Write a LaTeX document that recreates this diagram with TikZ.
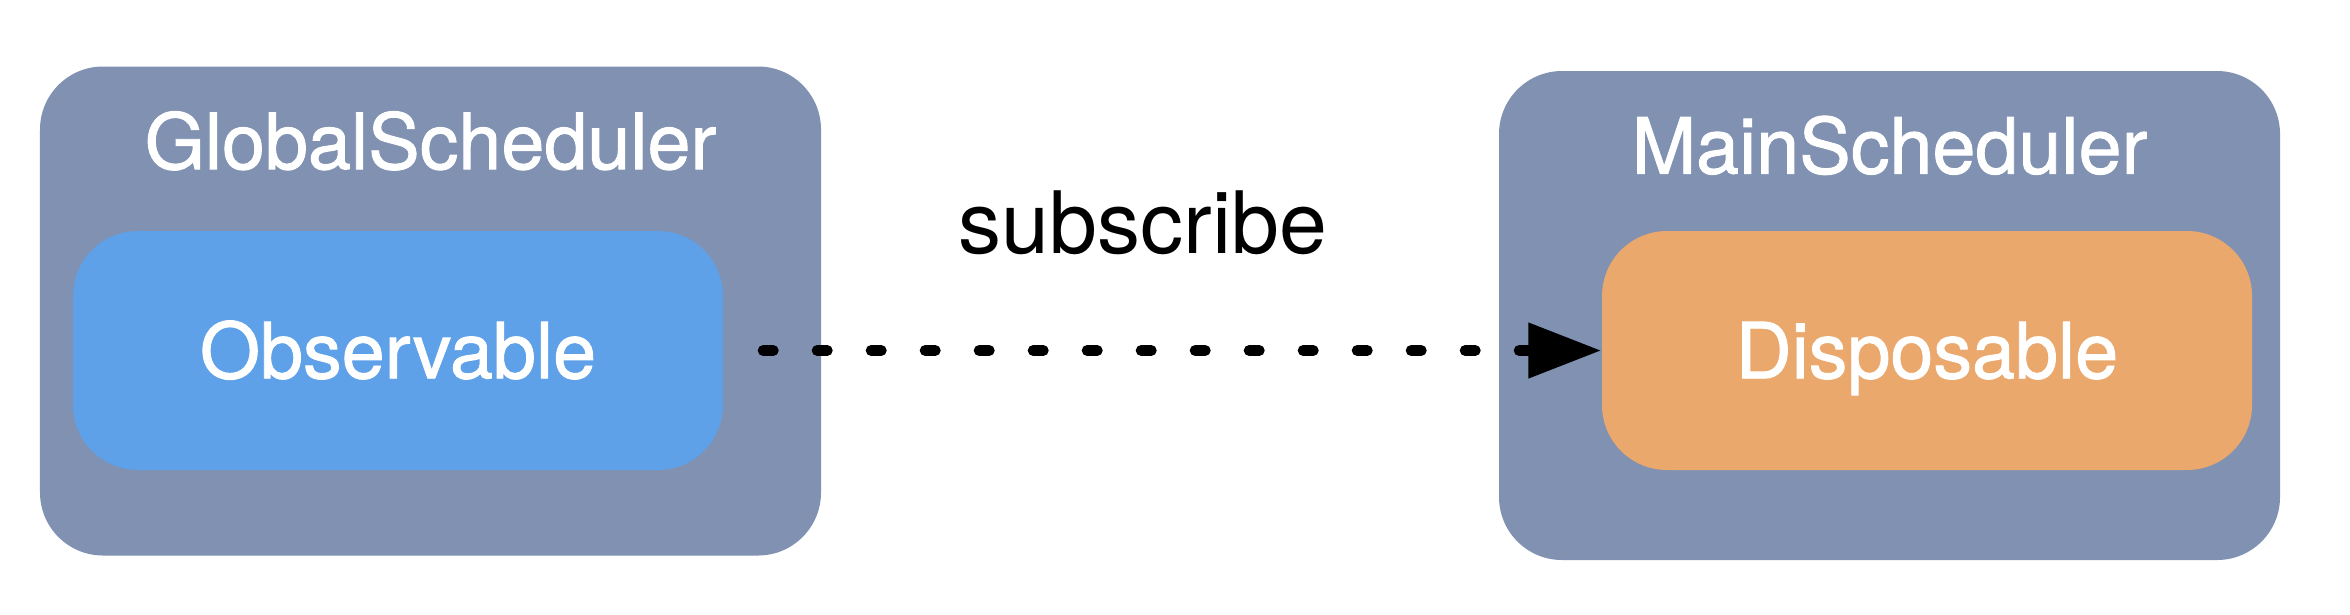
\documentclass[tikz,border=0pt]{standalone}
\usepackage{fontspec}
\setmainfont{TeX Gyre Heros}
\newfontfamily\labelfont[FakeBold=1.2]{TeX Gyre Heros}
\usepackage{xcolor}
\usetikzlibrary{arrows.meta, positioning}
\definecolor{schedgray}{RGB}{128,145,177}
\definecolor{obsblue}{RGB}{94,161,232}
\definecolor{disporange}{RGB}{235,168,108}

\begin{document}
\begin{tikzpicture}[
		scheduler/.style = {fill=schedgray, rounded corners=0.63cm, minimum width=7.81cm, minimum height=4.89cm, inner sep=0},
		title/.style = {text=white, font=\labelfont\fontsize{22}{26}\selectfont, inner sep=0, text height=15.8pt, text depth=0pt},
		job/.style = {rounded corners=0.65cm, minimum width=6.5cm, minimum height=2.39cm, inner sep=0, text=white, font=\labelfont\fontsize{22}{26}\selectfont, text height=15.8pt, text depth=0pt},
		subarrow/.style = {line width=0.11cm, dash pattern=on 0.10cm off 0.44cm, line cap=round, shorten <=0.395cm, -{Triangle[length=0.73cm, width=0.53cm]}}
	]
			\useasboundingbox (0,0) rectangle (23.5,-6.14);
			
			\draw
			(4.305,-3.11) node[scheduler] (GS) {}
			(18.895,-3.155) node[scheduler] (MS) {};
			
			\node[title, below=0.47cm of GS.north] (GSTITLE) {GlobalScheduler};
			\node[title, below=0.47cm of MS.north] (MSTITLE) {MainScheduler};
			
			\draw
			(3.98,-3.505) node[job, fill=obsblue] (OBS) {Observable}
			(19.27,-3.505) node[job, fill=disporange] (DISP) {Disposable};
			
			\node[anchor=base, font=\fontsize{24.5}{29}\selectfont] (SUB) at (11.43,-2.53) {subscribe};
			
			\draw[subarrow] (OBS.east) -- (DISP.west);
		\end{tikzpicture}
\end{document}
